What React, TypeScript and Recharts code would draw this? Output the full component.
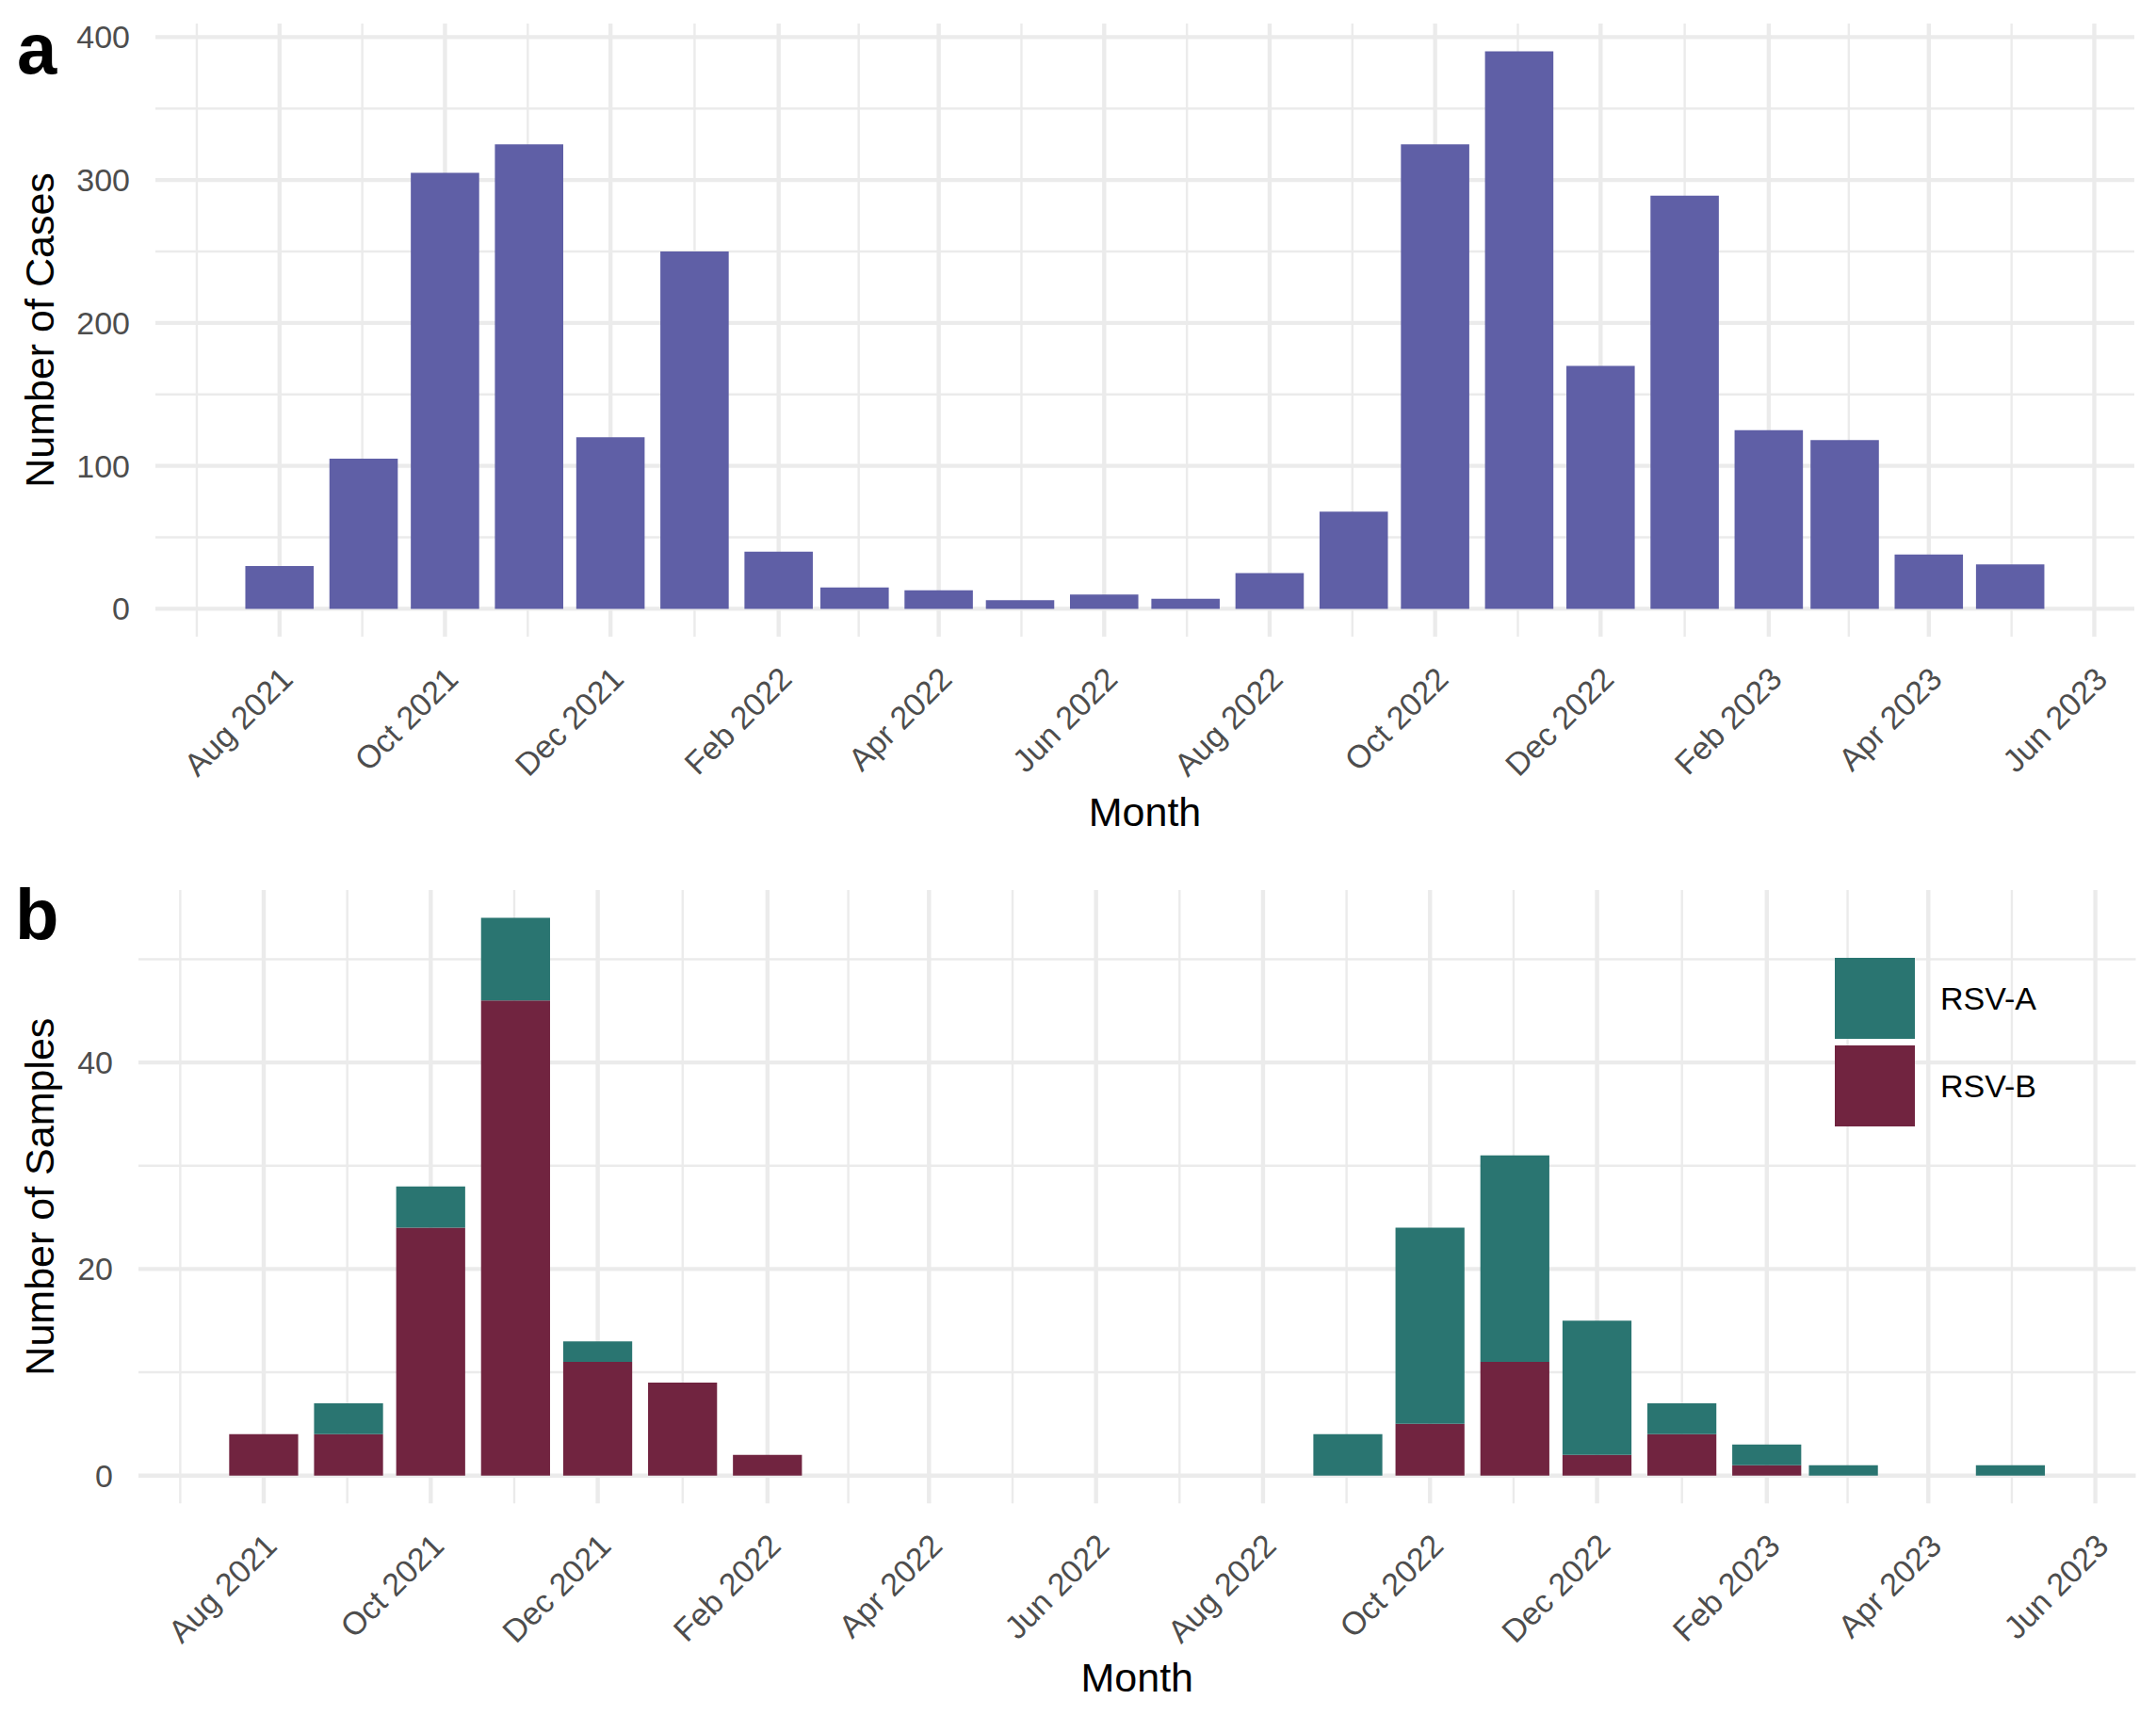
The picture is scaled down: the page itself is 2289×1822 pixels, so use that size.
import React from "react";
import { BarChart, Bar, XAxis, YAxis, CartesianGrid, Legend, Label } from "recharts";

// panel a: RSV cases per month
const caseMonths = [
  "2021-08", "2021-09", "2021-10", "2021-11", "2021-12", "2022-01", "2022-02", "2022-03",
  "2022-04", "2022-05", "2022-06", "2022-07", "2022-08", "2022-09", "2022-10", "2022-11",
  "2022-12", "2023-01", "2023-02", "2023-03", "2023-04", "2023-05",
];
const caseCounts = [30, 105, 305, 325, 120, 250, 40, 15, 13, 6, 10, 7, 25, 68, 325, 390, 170, 289, 125, 118, 38, 31];

// panel b: sequenced samples per month, by subtype
const sampleMonths = [
  "2021-08", "2021-09", "2021-10", "2021-11", "2021-12", "2022-01", "2022-02",
  "2022-09", "2022-10", "2022-11", "2022-12", "2023-01", "2023-02", "2023-03", "2023-05",
];
const rsvA = [0, 3, 4, 8, 2, 0, 0, 4, 19, 20, 13, 3, 2, 1, 1];
const rsvB = [4, 4, 24, 46, 11, 9, 2, 0, 5, 11, 2, 4, 1, 0, 0];
const subtypeNames = ["RSV-A", "RSV-B"];

// axes
const tickMonths = [
  "2021-08", "2021-10", "2021-12", "2022-02", "2022-04", "2022-06",
  "2022-08", "2022-10", "2022-12", "2023-02", "2023-04", "2023-06",
];
const tickLabels = [
  "Aug 2021", "Oct 2021", "Dec 2021", "Feb 2022", "Apr 2022", "Jun 2022",
  "Aug 2022", "Oct 2022", "Dec 2022", "Feb 2023", "Apr 2023", "Jun 2023",
];
const caseTicks = [0, 100, 200, 300, 400];
const caseMinorTicks = [50, 150, 250, 350];
const sampleTicks = [0, 20, 40];
const sampleMinorTicks = [10, 30, 50];

const PURPLE = "#5F5FA6";
const TEAL = "#2A7571";
const MAROON = "#712440";
const GRID = "#EBEBEB";
const FONT = '"Liberation Sans", Arial, Helvetica, sans-serif';

const BASE = Date.UTC(2021, 7, 1);
const dayOf = (m: string) => {
  const [y, mo] = m.split("-").map(Number);
  return (Date.UTC(y, mo - 1, 1) - BASE) / 86400000;
};

// geom_col width on a date axis: 0.9 x the shortest month
const BAR_DAYS = 0.9 * 28;

function dateDomain(days: number[]): [number, number] {
  const lo = Math.min(...days) - BAR_DAYS / 2;
  const hi = Math.max(...days) + BAR_DAYS / 2;
  const pad = 0.05 * (hi - lo);
  return [lo - pad, hi + pad];
}

const tickDays = tickMonths.map(dayOf);
const labelByDay = new Map(tickDays.map((d, i) => [d, tickLabels[i]]));

function minorDays(domain: [number, number]) {
  const ext = [dayOf("2021-06"), ...tickDays, dayOf("2023-08")];
  const out: number[] = [];
  for (let i = 1; i < ext.length; i++) out.push((ext[i - 1] + ext[i]) / 2);
  return out.filter((d) => d > domain[0] && d < domain[1]);
}

const caseRows = caseMonths.map((m, i) => ({ day: dayOf(m), cases: caseCounts[i] }));
const sampleRows = sampleMonths.map((m, i) => ({ day: dayOf(m), a: rsvA[i], b: rsvB[i] }));

const caseX = dateDomain(caseRows.map((r) => r.day));
const sampleX = dateDomain(sampleRows.map((r) => r.day));
const caseMax = Math.max(...caseCounts);
const sampleMax = Math.max(...sampleRows.map((r) => r.a + r.b));
const caseY: [number, number] = [-0.05 * caseMax, caseMax * 1.05];
const sampleY: [number, number] = [-0.05 * sampleMax, sampleMax * 1.05];

const renderMonthTick = (props: any) => {
  const { x, y, payload } = props;
  const ax = x + 16;
  const ay = y + 47;
  return (
    <text
      x={ax}
      y={ay}
      textAnchor="end"
      fill="#4D4D4D"
      fontSize={34}
      transform={`rotate(-45 ${ax} ${ay})`}
    >
      {labelByDay.get(payload.value)}
    </text>
  );
};

const SubtypeLegend = () => (
  <div style={{ fontFamily: FONT }}>
    {[TEAL, MAROON].map((c, i) => (
      <div key={i} style={{ display: "flex", alignItems: "center", height: 86, marginBottom: 7 }}>
        <div style={{ width: 85, height: 86, background: c }} />
        <span style={{ marginLeft: 27, fontSize: 34, color: "#000" }}>{subtypeNames[i]}</span>
      </div>
    ))}
  </div>
);

const titleStyle = { fontSize: 43, fill: "#000" };
const panelLetter = (top: number, left: number): React.CSSProperties => ({
  position: "absolute",
  top,
  left,
  fontSize: 76,
  lineHeight: 1,
  fontWeight: "bold",
  color: "#000",
});

export default function App() {
  const plotWidthA = 2289 - 165 - 23;
  const plotWidthB = 2289 - 147 - 21.5;
  const barA = (BAR_DAYS * plotWidthA) / (caseX[1] - caseX[0]);
  const barB = (BAR_DAYS * plotWidthB) / (sampleX[1] - sampleX[0]);

  return (
    <div
      style={{
        position: "absolute",
        left: 0,
        top: 0,
        width: 2289,
        height: 1822,
        background: "#fff",
        fontFamily: FONT,
      }}
    >
      <div style={{ position: "absolute", left: 0, top: 0 }}>
        <BarChart
          width={2289}
          height={900}
          data={caseRows}
          margin={{ top: 25, right: 23, bottom: 4, left: 0 }}
          barGap={0}
          barCategoryGap={0}
        >
          <CartesianGrid
            stroke={GRID}
            strokeWidth={2.4}
            horizontalValues={caseMinorTicks}
            verticalValues={minorDays(caseX)}
          />
          <CartesianGrid stroke={GRID} strokeWidth={4.4} horizontalValues={caseTicks} verticalValues={tickDays} />
          <XAxis
            dataKey="day"
            type="number"
            domain={caseX}
            allowDataOverflow
            ticks={tickDays}
            interval={0}
            tick={renderMonthTick}
            tickLine={false}
            axisLine={false}
            tickSize={0}
            tickMargin={0}
            height={220}
          >
            <Label value="Month" position="insideBottom" offset={19} style={titleStyle} />
          </XAxis>
          <YAxis
            type="number"
            domain={caseY}
            allowDataOverflow
            ticks={caseTicks}
            interval={0}
            width={165}
            tickLine={false}
            axisLine={false}
            tickSize={0}
            tickMargin={27}
            tick={{ fill: "#4D4D4D", fontSize: 34 }}
          >
            <Label
              value="Number of Cases"
              angle={-90}
              position="insideLeft"
              offset={42}
              style={{ ...titleStyle, textAnchor: "middle" }}
            />
          </YAxis>
          <Bar dataKey="cases" fill={PURPLE} barSize={barA} isAnimationActive={false} />
        </BarChart>
      </div>

      <div style={{ position: "absolute", left: 0, top: 900 }}>
        <BarChart
          width={2289}
          height={922}
          data={sampleRows}
          margin={{ top: 45, right: 21.5, bottom: 5.7, left: 0 }}
          barGap={0}
          barCategoryGap={0}
        >
          <CartesianGrid
            stroke={GRID}
            strokeWidth={2.4}
            horizontalValues={sampleMinorTicks}
            verticalValues={minorDays(sampleX)}
          />
          <CartesianGrid stroke={GRID} strokeWidth={4.4} horizontalValues={sampleTicks} verticalValues={tickDays} />
          <XAxis
            dataKey="day"
            type="number"
            domain={sampleX}
            allowDataOverflow
            ticks={tickDays}
            interval={0}
            tick={renderMonthTick}
            tickLine={false}
            axisLine={false}
            tickSize={0}
            tickMargin={0}
            height={220}
          >
            <Label value="Month" position="insideBottom" offset={20} style={titleStyle} />
          </XAxis>
          <YAxis
            type="number"
            domain={sampleY}
            allowDataOverflow
            ticks={sampleTicks}
            interval={0}
            width={147}
            tickLine={false}
            axisLine={false}
            tickSize={0}
            tickMargin={27}
            tick={{ fill: "#4D4D4D", fontSize: 34 }}
          >
            <Label
              value="Number of Samples"
              angle={-90}
              position="insideLeft"
              offset={42}
              style={{ ...titleStyle, textAnchor: "middle" }}
            />
          </YAxis>
          <Legend
            layout="vertical"
            align="center"
            verticalAlign="middle"
            content={SubtypeLegend}
            wrapperStyle={{ left: 1948, top: 117, width: "auto", height: "auto" }}
          />
          <Bar dataKey="b" name="RSV-B" stackId="s" fill={MAROON} barSize={barB} isAnimationActive={false} />
          <Bar dataKey="a" name="RSV-A" stackId="s" fill={TEAL} barSize={barB} isAnimationActive={false} />
        </BarChart>
      </div>

      <div style={panelLetter(14, 18)}>a</div>
      <div style={panelLetter(933, 16)}>b</div>
    </div>
  );
}
